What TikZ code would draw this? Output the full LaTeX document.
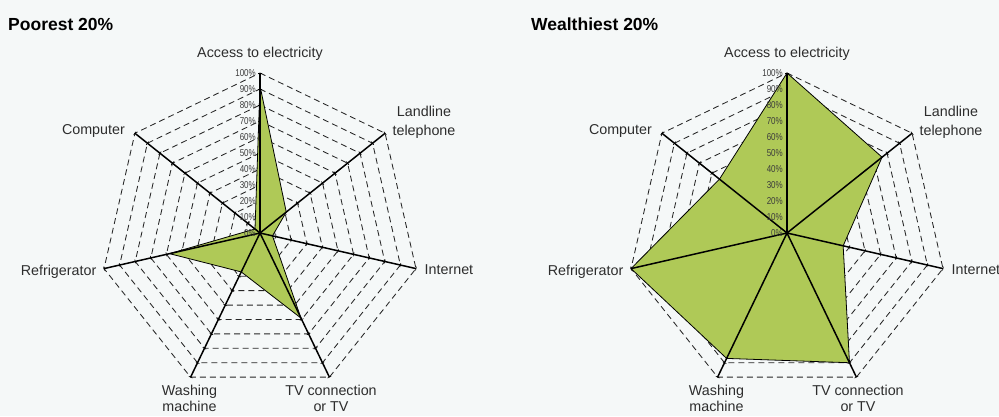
\documentclass[tikz,border=0pt]{standalone}
\usepackage{fontspec}
\setmainfont{Liberation Sans}
\newfontfamily\pctfont[FakeStretch=0.8]{Liberation Sans}
\definecolor{paper}{RGB}{245,248,248}
\definecolor{leafgreen}{RGB}{175,201,87}
\definecolor{labelgray}{RGB}{45,45,45}
\definecolor{pctgray}{RGB}{60,60,60}

\tikzset{
  ring/.style={line width=0.85pt, black!85, dash pattern=on 6pt off 4pt},
  spoke/.style={line width=1.5pt, black},
  mainspoke/.style={line width=2.2pt, black},
  tickmark/.style={line width=0.6pt, black},
  datapoly/.style={fill=leafgreen, draw=black, line width=0.8pt, line join=miter},
  pct/.style={font=\pctfont\fontsize{10}{11}\selectfont, text=pctgray, inner sep=0pt, anchor=east},
  axislabel/.style={font=\fontsize{14.3}{17}\selectfont, text=labelgray, inner sep=0pt},
  charttitle/.style={font=\bfseries\fontsize{17.5}{20}\selectfont, text=black, inner sep=0pt, anchor=base west},
}

% #1 name prefix, #2 centre x, #3..#9 values (percent) clockwise from the top
\newcommand\radarchart[9]{%
  \begin{scope}[shift={(#2,183)}]
    \coordinate (#1c) at (0,0);
    \foreach \i in {0,...,6}{\coordinate (#1v\i) at ({90-\i*360/7}:160);}
    % dashed rings every 10%
    \foreach \k in {1,...,10}{
      \draw[ring] (90:{\k*16})
        \foreach \i in {1,...,6}{ -- ({90-\i*360/7}:{\k*16}) } -- cycle;
    }
    % tick marks every 10% along each spoke
    \foreach \i in {0,...,6}{
      \foreach \k in {1,...,10}{
        \draw[tickmark, rotate={90-\i*360/7}] (\k*16,-2) -- (\k*16,2);
      }
    }
    % data polygon
    \filldraw[datapoly] (90:{#3*1.6}) -- ({90-360/7}:{#4*1.6})
      -- ({90-2*360/7}:{#5*1.6}) -- ({90-3*360/7}:{#6*1.6})
      -- ({90-4*360/7}:{#7*1.6}) -- ({90-5*360/7}:{#8*1.6})
      -- ({90-6*360/7}:{#9*1.6}) -- cycle;
    % spokes
    \foreach \i in {1,...,6}{\draw[spoke] (#1c) -- (#1v\i);}
    \draw[mainspoke] (#1c) -- (#1v0);
    % percentage scale on the top spoke
    \foreach \k in {0,...,10}{
      \pgfmathtruncatemacro\pctval{\k*10}
      \node[pct] (#1p\k) at (-4,\k*16) {\pctval\%};
    }
  \end{scope}
  % axis captions
  \node[axislabel, anchor=base] (#1elec) at (#2,358) {Access to electricity};
  \node[axislabel, anchor=base] (#1landA) at (#2+164,299) {Landline};
  \node[axislabel, anchor=base] (#1landB) at (#2+164,280.5) {telephone};
  \node[axislabel, anchor=base west] (#1net) at (#2+164.5,141.5) {Internet};
  \node[axislabel, anchor=base] (#1tvA) at (#2+71,21) {TV connection};
  \node[axislabel, anchor=base] (#1tvB) at (#2+71,5) {or TV};
  \node[axislabel, anchor=base] (#1washA) at (#2-70.5,21) {Washing};
  \node[axislabel, anchor=base] (#1washB) at (#2-70.5,5) {machine};
  \node[axislabel, anchor=base east] (#1fridge) at (#2-163.5,141) {Refrigerator};
  \node[axislabel, anchor=base east] (#1comp) at (#2-135,282) {Computer};
}

\begin{document}
\begin{tikzpicture}[x=1pt,y=1pt]
  \fill[paper] (0,0) rectangle (999,416);
  \useasboundingbox (0,0) rectangle (999,416);

  \node[charttitle] (poortitle) at (8,385) {Poorest 20\%};
  \node[charttitle] (richtitle) at (531,385) {Wealthiest 20\%};

  \radarchart{L}{260}{92}{21}{8}{59}{27}{58}{4}
  \radarchart{R}{787}{100}{76}{36}{90}{87}{100}{54}
\end{tikzpicture}
\end{document}
